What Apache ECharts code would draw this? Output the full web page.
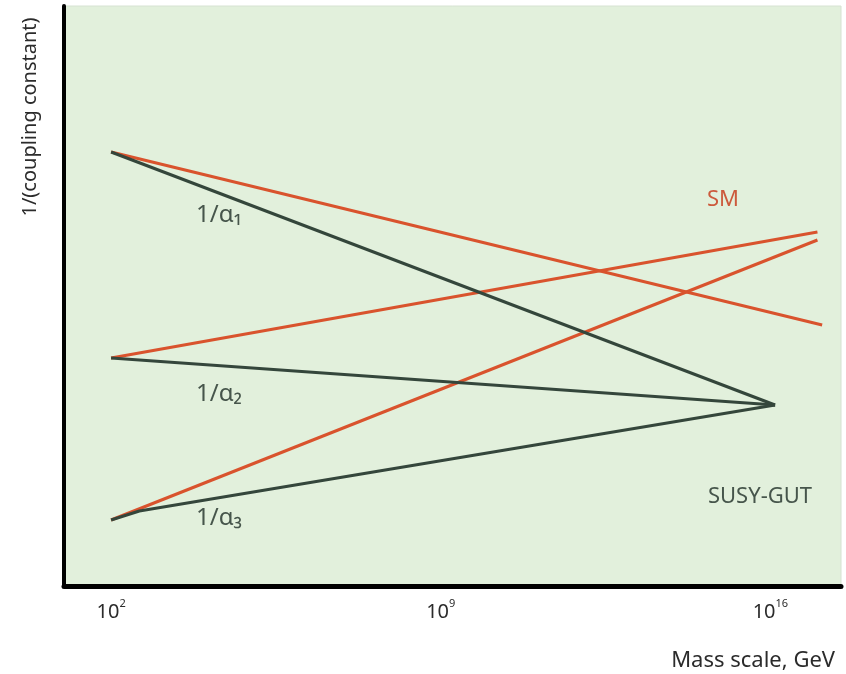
<!DOCTYPE html>
<html>
<head>
<meta charset="utf-8">
<script src="https://cdn.jsdelivr.net/npm/echarts@6/dist/echarts.min.js"></script>
<style>
  html, body { margin: 0; padding: 0; background: #ffffff; }
  #chart { width: 846px; height: 674px; }
</style>
</head>
<body>
<div id="chart"></div>
<script>
// Running inverse couplings vs. log10(mass scale / GeV)
const tickExponents = [2, 9, 16];

// Standard Model running (straight lines in log scale)
const smAlpha1 = [[2, 43.4], [17.1, 26.1]];
const smAlpha2 = [[2, 22.8], [17.0, 35.4]];
const smAlpha3 = [[2, 6.6], [17.0, 34.6]];

// Supersymmetric running, meeting at the GUT point
const susyAlpha1 = [[2, 43.4], [16.1, 18.1]];
const susyAlpha2 = [[2, 22.8], [16.1, 18.1]];
const susyAlpha3 = [[2, 6.6], [2.6, 7.5], [16.1, 18.1]];

const SM_COLOR = '#d9532d';
const SUSY_COLOR = '#34463b';
const FONT = "'Noto Sans', sans-serif";

function lineSeries(name, data, color) {
  return {
    name: name,
    type: 'line',
    data: data,
    symbol: 'none',
    smooth: false,
    lineStyle: { color: color, width: 3 },
    z: color === SM_COLOR ? 3 : 4,
    animation: false
  };
}

const chart = echarts.init(document.getElementById('chart'), null, { renderer: 'canvas' });

chart.setOption({
  backgroundColor: '#ffffff',
  animation: false,
  grid: {
    left: 64, right: 5, top: 6, bottom: 88,
    show: true,
    backgroundColor: '#e2f0dc',
    borderColor: '#d6e2d2',
    borderWidth: 1
  },
  xAxis: {
    type: 'value',
    min: 1,
    max: 17.5,
    splitLine: { show: false },
    axisTick: { show: false },
    axisLine: { show: true, onZero: false, lineStyle: { color: '#000000', width: 5 } },
    axisLabel: {
      customValues: tickExponents,
      formatter: v => '{b|10}{s|' + v + '}',
      margin: 12,
      rich: {
        b: { color: '#2b2b2b', fontFamily: FONT, fontSize: 20, lineHeight: 24, verticalAlign: 'bottom' },
        s: { color: '#2b2b2b', fontFamily: FONT, fontSize: 11, lineHeight: 24, verticalAlign: 'top', padding: [0, 0, 10, 0] }
      }
    }
  },
  yAxis: {
    type: 'value',
    min: 0,
    max: 58,
    splitLine: { show: false },
    axisTick: { show: false },
    axisLabel: { show: false },
    axisLine: { show: true, onZero: false, lineStyle: { color: '#000000', width: 4 } }
  },
  series: [
    lineSeries('SM 1/α1', smAlpha1, SM_COLOR),
    lineSeries('SM 1/α2', smAlpha2, SM_COLOR),
    lineSeries('SM 1/α3', smAlpha3, SM_COLOR),
    lineSeries('SUSY 1/α1', susyAlpha1, SUSY_COLOR),
    lineSeries('SUSY 1/α2', susyAlpha2, SUSY_COLOR),
    lineSeries('SUSY 1/α3', susyAlpha3, SUSY_COLOR)
  ],
  graphic: [
    {
      type: 'text', x: 30, y: 117, rotation: Math.PI / 2,
      style: { text: '1/(coupling constant)', fill: '#2b2b2b', font: '20px ' + FONT, align: 'center', verticalAlign: 'middle' }
    },
    {
      type: 'text', x: 835, y: 661,
      style: { text: 'Mass scale, GeV', fill: '#2b2b2b', font: '22px ' + FONT, align: 'right', verticalAlign: 'middle' }
    },
    {
      type: 'text', x: 196, y: 215,
      style: { text: '1/α₁', fill: '#46554b', font: '24px ' + FONT, align: 'left', verticalAlign: 'middle' }
    },
    {
      type: 'text', x: 196, y: 394,
      style: { text: '1/α₂', fill: '#46554b', font: '24px ' + FONT, align: 'left', verticalAlign: 'middle' }
    },
    {
      type: 'text', x: 196, y: 518,
      style: { text: '1/α₃', fill: '#46554b', font: '24px ' + FONT, align: 'left', verticalAlign: 'middle' }
    },
    {
      type: 'text', x: 723, y: 200,
      style: { text: 'SM', fill: '#cc5a3c', font: '22px ' + FONT, align: 'center', verticalAlign: 'middle' }
    },
    {
      type: 'text', x: 760, y: 497,
      style: { text: 'SUSY-GUT', fill: '#46554b', font: '22px ' + FONT, align: 'center', verticalAlign: 'middle' }
    }
  ]
});
</script>
</body>
</html>
